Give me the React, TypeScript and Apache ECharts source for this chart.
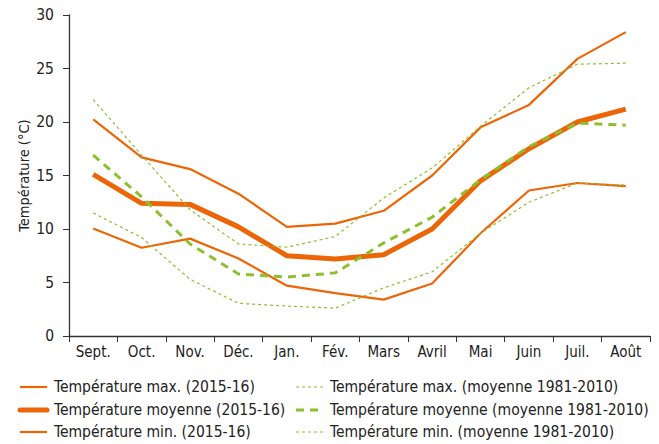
import React, { useEffect, useRef } from "react";
import * as echarts from "echarts";

const months = ["Sept.", "Oct.", "Nov.", "Déc.", "Jan.", "Fév.", "Mars", "Avril", "Mai", "Juin", "Juil.", "Août"];

const maxTemp2015 = [20.25, 16.7, 15.6, 13.3, 10.2, 10.5, 11.7, 15.0, 19.5, 21.6, 25.9, 28.4];
const meanTemp2015 = [15.1, 12.4, 12.3, 10.2, 7.5, 7.2, 7.6, 10.0, 14.5, 17.5, 20.0, 21.2];
const minTemp2015 = [10.05, 8.25, 9.1, 7.25, 4.7, 4.0, 3.4, 4.9, 9.6, 13.6, 14.3, 14.0];
const maxTempNormal = [22.1, 16.9, 11.8, 8.6, 8.3, 9.3, 12.9, 15.7, 19.6, 23.2, 25.4, 25.5];
const meanTempNormal = [16.9, 13.0, 8.6, 5.8, 5.5, 5.9, 8.7, 11.1, 14.6, 17.7, 19.9, 19.7];
const minTempNormal = [11.5, 9.2, 5.3, 3.05, 2.8, 2.6, 4.5, 6.0, 9.6, 12.5, 14.3, 14.1];

const leftNames = ["Température max. (2015-16)", "Température moyenne (2015-16)", "Température min. (2015-16)"];
const rightNames = [
  "Température max. (moyenne 1981-2010)",
  "Température moyenne (moyenne 1981-2010)",
  "Température min. (moyenne 1981-2010)",
];

const ORANGE = "#EC6608";
const GREEN = "#8DBF2E";
const FONT = "'DejaVu Sans Condensed', 'Liberation Sans Narrow', sans-serif";

type Style = { color: string; width: number; type: any };
const styles: Style[] = [
  { color: ORANGE, width: 2.2, type: "solid" },
  { color: ORANGE, width: 5, type: "solid" },
  { color: ORANGE, width: 2.2, type: "solid" },
  { color: GREEN, width: 1.2, type: [3, 3] },
  { color: GREEN, width: 3, type: [8, 6] },
  { color: GREEN, width: 1.2, type: [3, 3] },
];

export default function App() {
  const ref = useRef<HTMLDivElement>(null);
  useEffect(() => {
    if (!ref.current) return;
    const chart = echarts.init(ref.current, undefined, { renderer: "svg" });
    const allNames = [...leftNames, ...rightNames];
    const allData = [maxTemp2015, meanTemp2015, minTemp2015, maxTempNormal, meanTempNormal, minTempNormal];
    const series = allNames.map((name, i) => ({
      name,
      type: "line",
      data: allData[i],
      symbol: "none",
      showSymbol: false,
      z: i < 3 ? 3 : 4,
      lineStyle: { color: styles[i].color, width: styles[i].width, type: styles[i].type },
      itemStyle: { color: styles[i].color },
    }));

    const rowsY = [387, 410, 432];
    const graphic: any[] = [];
    allNames.forEach((name, i) => {
      const col = i < 3 ? 0 : 1;
      const row = i % 3;
      const x0 = col === 0 ? 20 : 296;
      const y = rowsY[row];
      const st = styles[i];
      const dash = Array.isArray(st.type) ? st.type : null;
      graphic.push({
        type: "line",
        shape: { x1: x0, y1: y, x2: x0 + 27, y2: y },
        style: {
          stroke: st.color,
          lineWidth: st.width,
          lineDash: dash ?? undefined,
          lineCap: i === 1 ? "round" : "butt",
        },
        silent: true,
      });
      graphic.push({
        type: "text",
        x: x0 + 34,
        y,
        style: {
          text: name,
          fill: "#222",
          fontFamily: FONT,
          fontSize: 15.5,
          verticalAlign: "middle",
          align: "left",
        },
        silent: true,
      });
    });

    chart.setOption({
      animation: false,
      grid: { left: 69, right: 9, top: 15, bottom: 108 },
      graphic,
      xAxis: {
        type: "category",
        data: months,
        boundaryGap: true,
        axisLine: { lineStyle: { color: "#333", width: 1.3 } },
        axisTick: { show: true, length: 6, interval: 0, lineStyle: { color: "#333" } },
        axisLabel: { fontFamily: FONT, fontSize: 15, color: "#222", margin: 8, interval: 0 },
      },
      yAxis: {
        type: "value",
        min: 0,
        max: 30,
        interval: 5,
        name: "Température (°C)",
        nameLocation: "middle",
        nameGap: 38,
        nameMoveOverlap: false,
        nameRotate: 90,
        nameTextStyle: { fontFamily: FONT, fontSize: 14.5, color: "#222" },
        splitLine: { show: false },
        axisLine: { show: true, lineStyle: { color: "#333", width: 1.3 } },
        axisTick: { show: true, length: 6, lineStyle: { color: "#333" } },
        axisLabel: { fontFamily: FONT, fontSize: 15.5, color: "#222", margin: 15 },
      },
      series,
    });
    return () => chart.dispose();
  }, []);
  return <div ref={ref} style={{ width: 659, height: 444, position: "absolute", left: 0, top: 0 }} />;
}
